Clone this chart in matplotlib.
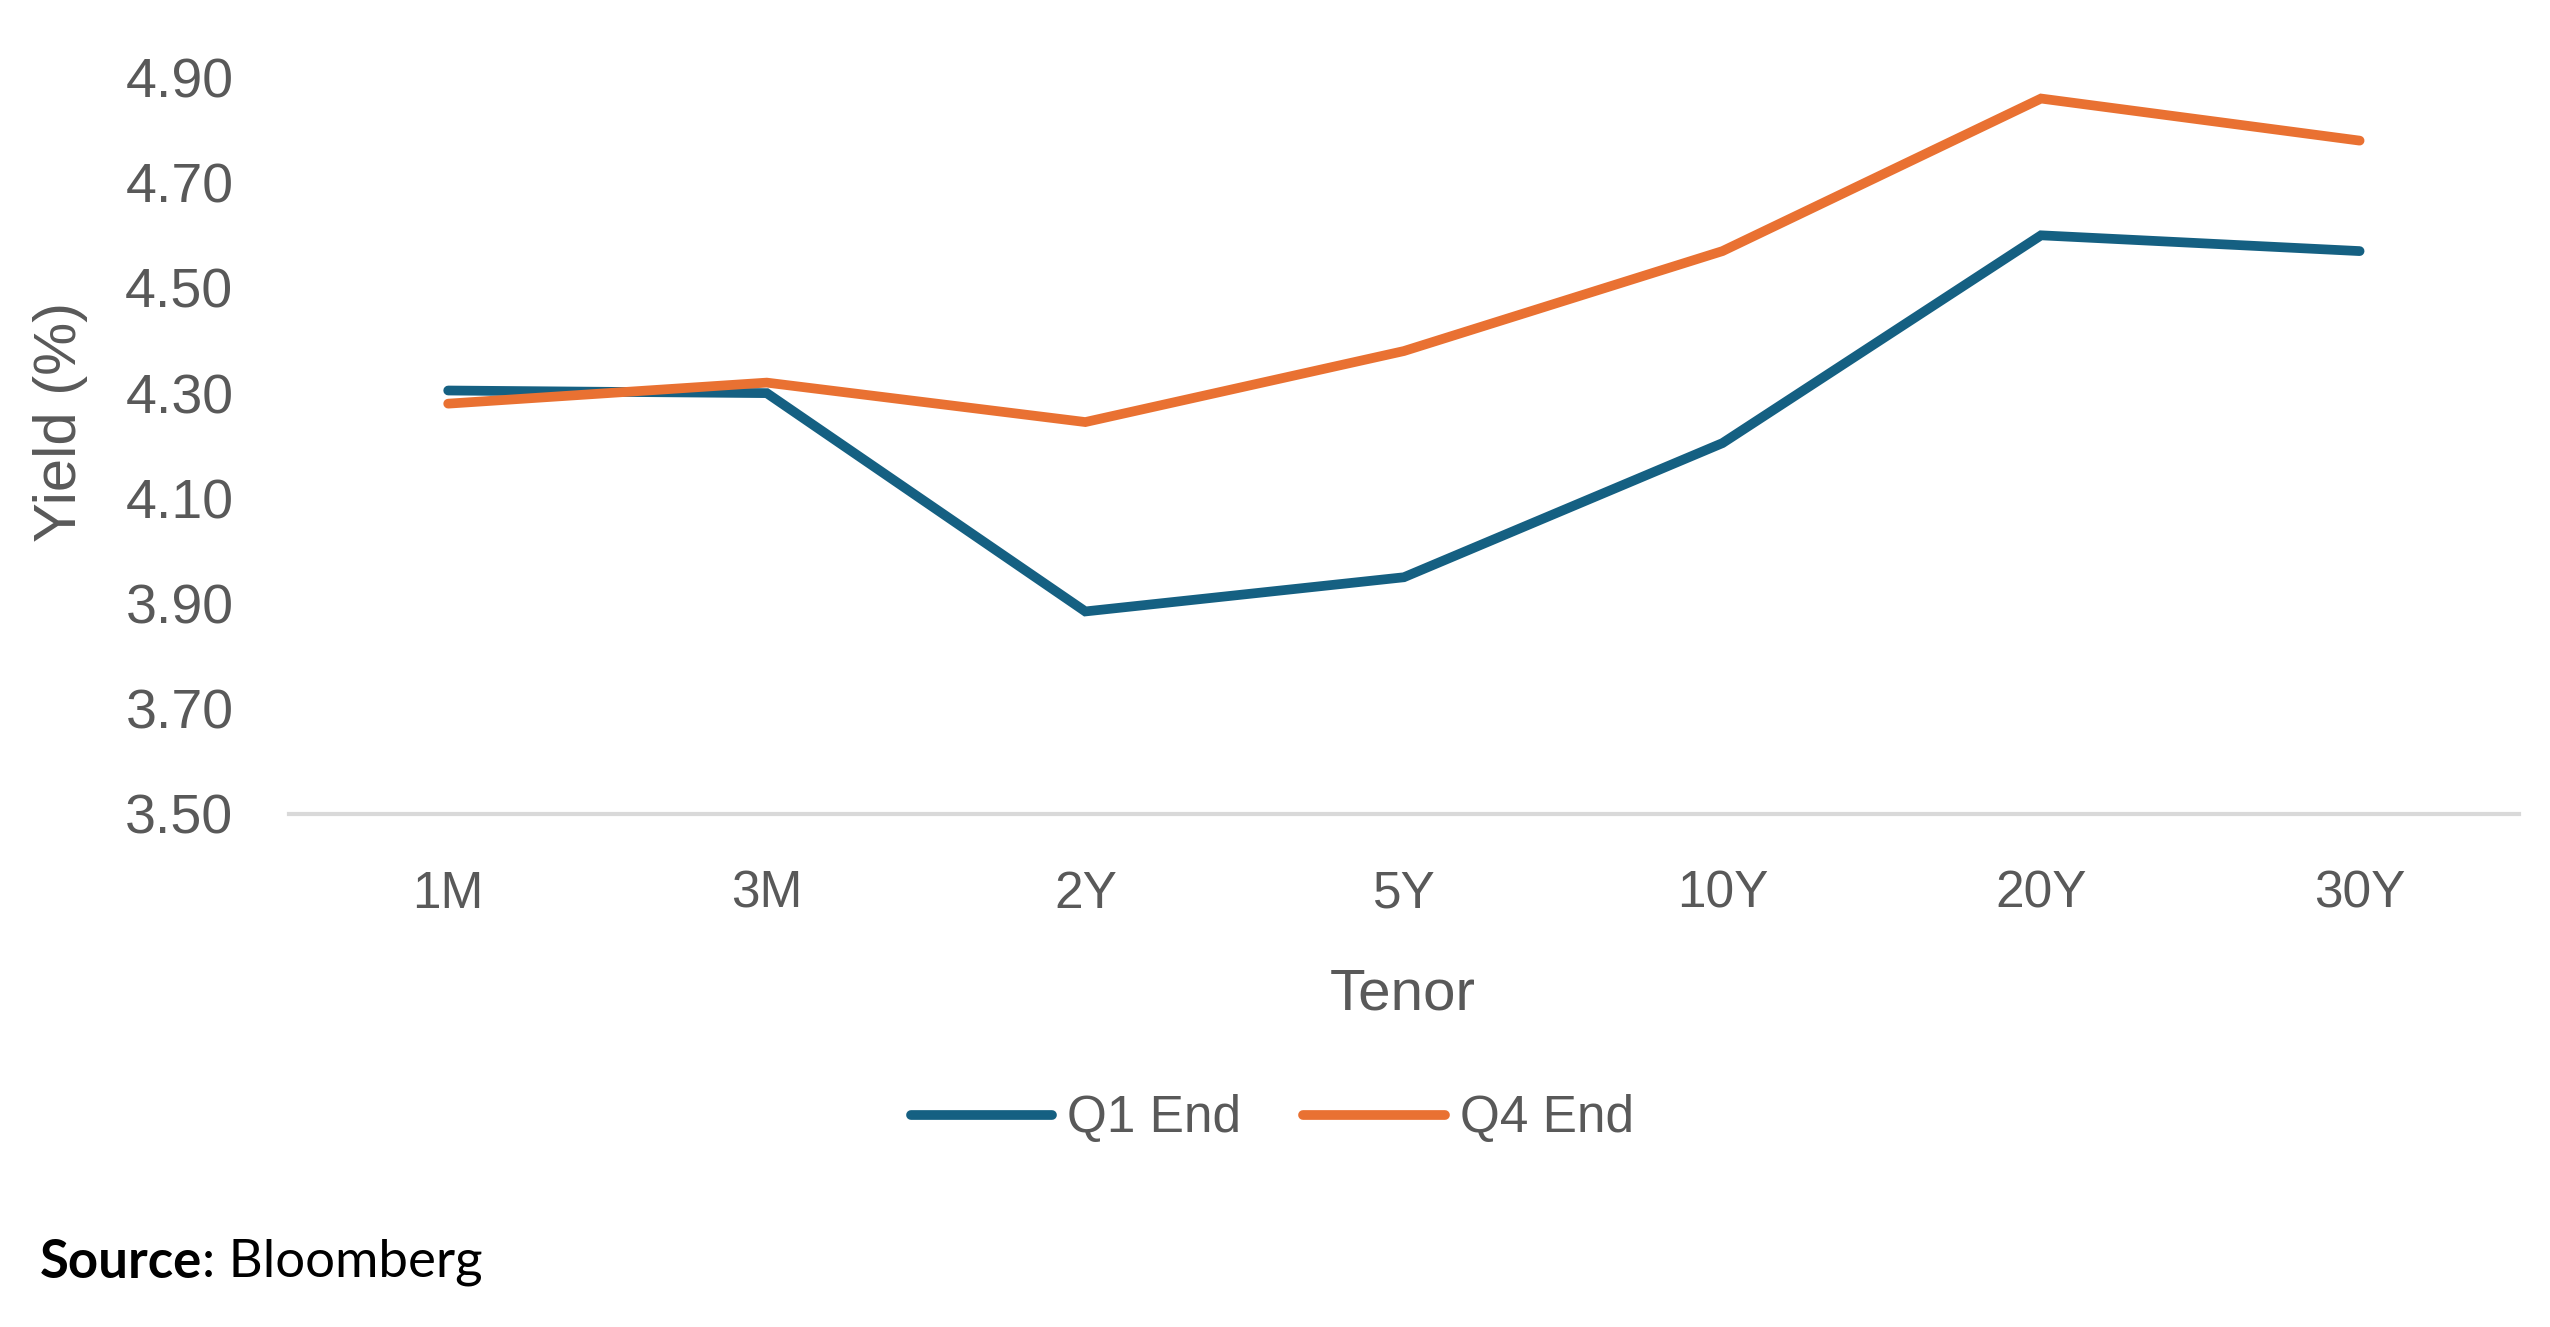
import matplotlib
matplotlib.use("Agg")
import matplotlib.pyplot as plt

tenors = ["1M", "3M", "2Y", "5Y", "10Y", "20Y", "30Y"]
q1_end = [4.305, 4.30, 3.885, 3.95, 4.205, 4.60, 4.57]
q4_end = [4.28, 4.32, 4.245, 4.38, 4.57, 4.86, 4.78]
yticks = [3.50, 3.70, 3.90, 4.10, 4.30, 4.50, 4.70, 4.90]

BLUE = "#156082"
ORANGE = "#E97132"
GRAY = "#595959"

plt.rcParams['font.family'] = ['Liberation Sans', 'DejaVu Sans']

fig = plt.figure(figsize=(25.5, 13.27), dpi=100)
ax = fig.add_axes([0.1133, 0.3866, 0.8745, 0.555])

x = list(range(len(tenors)))
ax.plot(x, q1_end, color=BLUE, lw=7, solid_capstyle='round', solid_joinstyle='miter', label="Q1 End")
ax.plot(x, q4_end, color=ORANGE, lw=7, solid_capstyle='round', solid_joinstyle='miter', label="Q4 End")

ax.set_xlim(-0.5, len(tenors) - 0.5)
ax.set_ylim(3.5, 4.9)
ax.set_xticks(x)
ax.set_xticklabels(tenors)
ax.set_yticks(yticks)
ax.set_yticklabels([f"{v:.2f}" for v in yticks])
ax.tick_params(axis='both', length=0, colors=GRAY)
ax.tick_params(axis='y', pad=40, labelsize=40)
ax.tick_params(axis='x', pad=40, labelsize=37)

for s in ['top', 'right', 'left']:
    ax.spines[s].set_visible(False)
ax.spines['bottom'].set_color('#D9D9D9')
ax.spines['bottom'].set_linewidth(3)
ax.spines['bottom'].set_zorder(0)

fig.text(60 / 2550, 1 - 422 / 1327, "Yield (%)", rotation=90, ha='center', va='center',
         fontsize=43, color=GRAY)
fig.text(1403 / 2550, 1 - 995 / 1327, "Tenor", ha='center', va='center',
         fontsize=42, color=GRAY)

leg = fig.legend(loc='center', bbox_to_anchor=(0.499, 1 - 1119 / 1327), ncol=2,
                 frameon=False, fontsize=37, handlelength=2.75, handletextpad=0.3,
                 columnspacing=1.2)
for t in leg.get_texts():
    t.set_color(GRAY)

src = fig.text(40 / 2550, 1 - 1262 / 1327, "Source", fontsize=38, ha='left', va='center',
               color='black', fontweight='bold', family=['Lato', 'DejaVu Sans'])
fig.canvas.draw()
bb = src.get_window_extent()
fig.text(bb.x1 / fig.bbox.width, 1 - 1262 / 1327, ": Bloomberg", fontsize=38, ha='left',
         va='center', color='black', family=['Lato', 'DejaVu Sans'])

fig.savefig("out.png", dpi=100, facecolor='white')
